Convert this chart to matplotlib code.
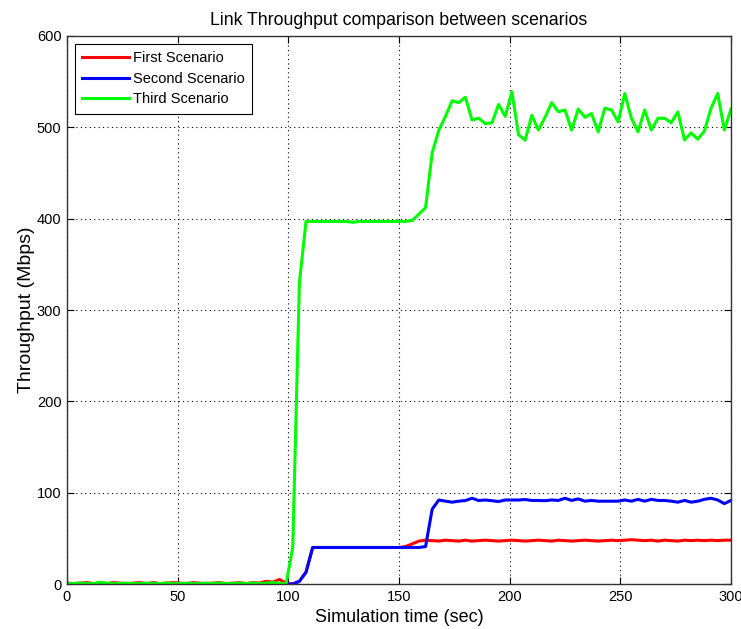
import matplotlib
matplotlib.use("Agg")
import matplotlib.pyplot as plt
import numpy as np

plt.rcParams["font.family"] = ["Liberation Sans", "DejaVu Sans"]

# sampling time every 3 sec, 0 .. 300
t = np.arange(0, 301, 3)

# First scenario (red)
first = [1, 0.5, 1, 1.5, 0.5, 1, 0.5, 1.5, 1, 0.5, 1, 1.5, 0.5, 1.5, 0.5, 1,
         1.5, 1, 0.5, 1.5, 1, 0.5, 1, 1.5, 0.5, 1, 1.5, 0.5, 1.5, 1, 3, 2, 5, 1,
         0, 3, 13, 40, 40, 40, 40, 40, 40, 40, 40, 40, 40, 40, 40, 40, 40, 41,
         44, 47, 48, 47.5, 47, 48, 47.5, 47, 48, 47, 47.5, 48, 47.5, 47, 47.5,
         48, 47.5, 47, 47.5, 48, 47.5, 47, 48, 47.5, 47, 47.5, 48, 47.5, 47,
         47.5, 48, 47.5, 48, 48.5, 48, 47.5, 48, 47, 48, 47.5, 47, 48, 47.5,
         48, 47.5, 48, 47.5, 48, 48]

# Second scenario (blue)
second = [0] * 35 + [3, 13, 40, 40, 40, 40, 40, 40, 40, 40, 40, 40, 40, 40,
          40, 40, 40, 40, 40, 41, 82,
          92, 90.7, 89.6, 90.7, 91.4, 93.9, 91.4, 92, 91.2, 90.3, 92, 92, 92,
          92.5, 91.5, 91.5, 91.2, 92, 91.5, 93.9, 91.5, 93.2, 90.7, 91.5, 90.7,
          90.7, 90.7, 90.7, 92, 90.7, 92.7, 90.7, 92.7, 91.5, 91.5, 90.7, 89.6,
          91.5, 89.6, 90.7, 92.7, 93.9, 92, 88, 91.5]

# Third scenario (green)
third = [0.5, 0.5, 1, 0.5, 0.5, 2, 1, 0.5, 0.5, 1, 0.5, 0.5, 1, 0.5, 0.5,
         1, 0.5, 0.5, 1, 0.5, 0.5, 1, 0.5, 1, 0.5, 0.5, 1, 0.5, 1, 0.5, 1,
         1.5, 1, 0.5,
         40, 330, 397, 397, 397, 397, 397, 397, 397, 396, 397, 397, 397, 397,
         397, 397, 397, 397, 398, 405, 412, 472, 497, 512, 529, 527, 533, 508,
         510, 504, 505, 525, 512, 539, 492, 486, 513, 497, 511, 527, 517, 519,
         497, 520, 511, 515, 495, 521, 519, 506, 537, 510, 495, 519, 497, 510,
         510, 505, 517, 486, 494, 487, 496, 521, 537, 497, 520]

labels = ["First Scenario", "Second Scenario", "Third Scenario"]
colors = ["#ff0000", "#0000ff", "#00ff00"]

fig = plt.figure(figsize=(7.41, 6.29), dpi=100)
ax = fig.add_axes([0.0904, 0.0715, 0.8961, 0.8713])

for y, lab, c in zip([first, second, third], labels, colors):
    ax.plot(t, y, color=c, lw=2.2, label=lab)

ax.set_xlim(0, 300)
ax.set_ylim(0, 600)
ax.set_xticks(range(0, 301, 50))
ax.set_yticks(range(0, 601, 100))
ax.grid(True, color="black", linestyle=(0, (1, 3)), linewidth=0.8)
ax.tick_params(direction="in", top=True, right=True, length=5,
               labelsize=10.5, colors="black", pad=4)
for s in ax.spines.values():
    s.set_color("#333333")
    s.set_linewidth(1.0)

ax.set_xlabel("Simulation time (sec)", fontsize=13, labelpad=4)
ax.set_ylabel("Throughput (Mbps)", fontsize=14, labelpad=1)
ax.set_title("Link Throughput comparison between scenarios", fontsize=12.8, pad=8)

leg = ax.legend(loc="upper left", fontsize=10.5, handlelength=3.2,
                fancybox=False, framealpha=1, edgecolor="black",
                borderaxespad=0.55, labelspacing=0.45, handletextpad=0.25,
                borderpad=0.5)
leg.get_frame().set_linewidth(0.8)

fig.savefig("out.png", dpi=100)
